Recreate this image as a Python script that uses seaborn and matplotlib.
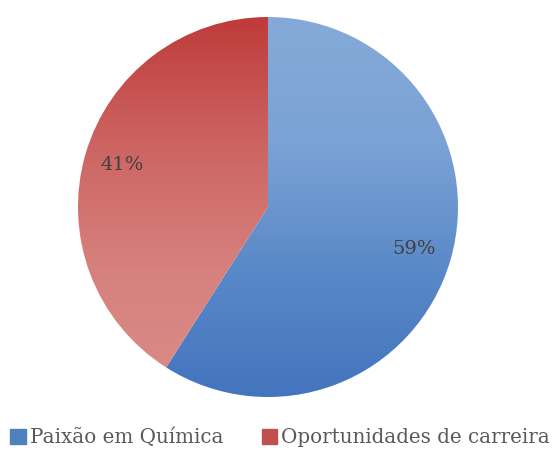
import numpy as np
import matplotlib
matplotlib.use("Agg")
import matplotlib.pyplot as plt
import seaborn as sns
from matplotlib.colors import LinearSegmentedColormap

categories = ["Paixão em Química", "Oportunidades de carreira"]
values = [59, 41]
base_colors = ["#4F81BD", "#C0504D"]
# gradient colour stops per slice, top to bottom
gradients = [["#85AAD9", "#7BA2D5", "#5A89C8", "#4374BD"],
             ["#BE3B3A", "#CC6461", "#D6817E", "#DA8C88"]]

sns.set_theme(style="white")
plt.rcParams["font.family"] = ["DejaVu Serif"]

fig = plt.figure(figsize=(5.55, 4.53), dpi=100)
ax = fig.add_axes([0.1405, 0.1236, 0.6847, 0.8389])

wedges, texts, autotexts = ax.pie(
    values, colors=sns.color_palette(base_colors), startangle=90,
    counterclock=False, autopct="%1.0f%%", pctdistance=0.8,
    textprops={"fontsize": 14, "color": "#404040"},
    wedgeprops={"linewidth": 0})

# fill each wedge with a vertical gradient
grad = np.linspace(0, 1, 256).reshape(-1, 1)
for w, stops in zip(wedges, gradients):
    cmap = LinearSegmentedColormap.from_list("g", stops)
    w.set_facecolor("none")
    im = ax.imshow(grad, cmap=cmap, extent=[-1, 1, -1, 1], origin="upper",
                   aspect="auto", zorder=0.5)
    im.set_clip_path(w)

for t in autotexts:
    t.set_zorder(3)

ax.set_xlim(-1, 1)
ax.set_ylim(-1, 1)
ax.set_aspect("equal")
ax.axis("off")

handles = [plt.Rectangle((0, 0), 1, 1, color=c) for c in base_colors]
fig.legend(handles, categories, loc="lower center", ncol=2,
           bbox_to_anchor=(0.505, -0.027), frameon=False, fontsize=14.3,
           handlelength=0.8, handleheight=0.8, handletextpad=0.2,
           columnspacing=1.9, labelcolor="#595959")

fig.savefig("out.png", dpi=100)
